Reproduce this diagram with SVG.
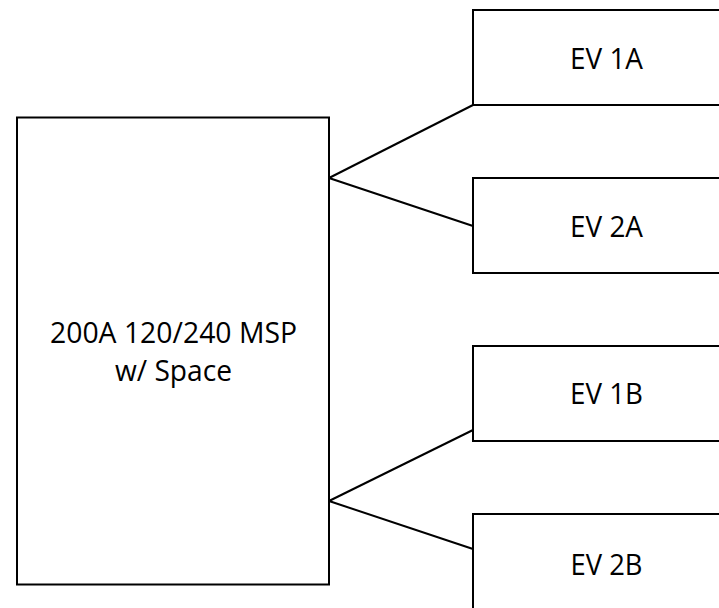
<svg xmlns="http://www.w3.org/2000/svg" width="719" height="608" viewBox="0 0 719 608">
<style>
.box{fill:#fff;stroke:#000;stroke-width:2}
.lbl{font-family:"Open Sans","Liberation Sans",Arial,sans-serif;font-size:29px;fill:#000;text-anchor:middle}
.conn{stroke:#000;stroke-width:2;fill:none}
</style>
<rect x="0" y="0" width="719" height="608" fill="#fff"/>
<g id="connectors">
<line class="conn" x1="329" y1="178" x2="473" y2="105"/>
<line class="conn" x1="329" y1="178" x2="473" y2="226"/>
<line class="conn" x1="329" y1="501" x2="473" y2="430"/>
<line class="conn" x1="329" y1="501" x2="473" y2="549"/>
</g>
<g id="msp">
<rect class="box" x="17" y="117.5" width="312" height="467"/>
<text class="lbl" x="173.5" y="343" textLength="247" lengthAdjust="spacingAndGlyphs">200A 120/240 MSP</text>
<text class="lbl" x="173.5" y="381" textLength="117" lengthAdjust="spacingAndGlyphs">w/ Space</text>
</g>
<g id="ev1a">
<rect class="box" x="473" y="10" width="270" height="95"/>
<text class="lbl" x="606.5" y="68.5" textLength="73" lengthAdjust="spacingAndGlyphs">EV 1A</text>
</g>
<g id="ev2a">
<rect class="box" x="473" y="178" width="270" height="95"/>
<text class="lbl" x="606.5" y="236.5" textLength="73" lengthAdjust="spacingAndGlyphs">EV 2A</text>
</g>
<g id="ev1b">
<rect class="box" x="473" y="346" width="270" height="95"/>
<text class="lbl" x="606.5" y="403.5" textLength="73" lengthAdjust="spacingAndGlyphs">EV 1B</text>
</g>
<g id="ev2b">
<rect class="box" x="473" y="514" width="270" height="95"/>
<text class="lbl" x="606.5" y="575" textLength="72" lengthAdjust="spacingAndGlyphs">EV 2B</text>
</g>
</svg>
